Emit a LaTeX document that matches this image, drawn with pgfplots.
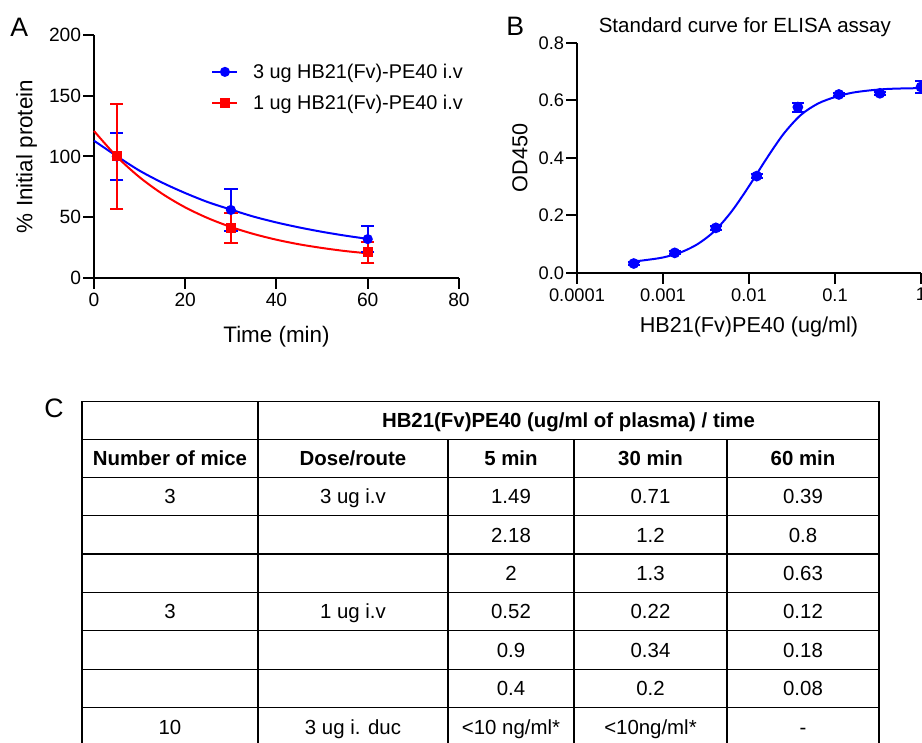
\documentclass[border=0pt]{standalone}
\usepackage{pgfplots}
\pgfplotsset{compat=1.18}
\usepackage{fontspec}
\setmainfont{Liberation Sans}
\newcommand\tabfont{\fontsize{15.3}{18}\selectfont}
\newcommand\Afont{\fontsize{14.4}{17}\selectfont}
\newcommand\Bfont{\fontsize{13.7}{16}\selectfont}
\newcommand\ta[1]{{\Afont #1}}
\newcommand\tb[1]{{\Bfont #1}}
\newcommand\Lfont{\fontsize{20}{24}\selectfont}
\newcommand\cell[3]{\node[anchor=base,inner sep=0pt,font=\tabfont] at (#1,{743-#2-7.3}) {#3};}
\begin{document}
\begin{tikzpicture}
\useasboundingbox (0,0) rectangle (691.5pt,557.25pt);
\pgfplotsset{
  myaxis/.style={
    scale only axis,
    axis lines=left,
    axis line style={line width=1.5pt,-},
    every tick/.style={line width=1.5pt, black},
    major tick length=8pt,
    tick align=outside,
    clip=false,
    every axis title shift=0pt,
    yticklabel style={inner xsep=1.5pt},
    /pgf/number format/assume math mode=true,
  }
}
% ---------------- Panel A ----------------
\begin{axis}[myaxis,
  at={(70.5pt,348.75pt)}, anchor=south west,
  width=273.75pt, height=182.25pt,
  xmin=0, xmax=80, ymin=0, ymax=200,
  xtick={0,20,40,60,80}, ytick={0,50,100,150,200},
  xticklabels={\ta{0},\ta{20},\ta{40},\ta{60},\ta{80}},
  yticklabels={\ta{0},\ta{50},\ta{100},\ta{150},\ta{200}},
  xlabel={Time (min)}, ylabel={\% Initial protein},
  label style={font=\fontsize{16.8}{20}\selectfont},
  xlabel style={at={(axis description cs:0.5,-0.243)}, anchor=center},
  ylabel style={at={(axis description cs:-0.185,0.5)}, anchor=center},
  legend style={draw=none, fill=none, at={(0.31,0.905)}, anchor=north west,
    font=\fontsize{14.9}{18}\selectfont, row sep=7pt},
  legend cell align=left,
]
\addplot[blue, line width=1.5pt, smooth, forget plot] coordinates {
 (0,113) (5,100.3) (10,88.3) (15,78.4) (20,69.9) (25,62.4) (30,56.3)
 (35,50.5) (40,45.7) (45,41.6) (50,38) (55,34.9) (60,32.2)};
\addplot[red, line width=1.5pt, smooth, forget plot] coordinates {
 (0,121) (5,99.9) (10,82.9) (15,69.2) (20,58.1) (25,49.2) (30,42)
 (35,36.2) (40,31.5) (45,27.7) (50,24.7) (55,22.2) (60,20.3)};
\addplot[blue, only marks, mark=*, mark size=3pt, line width=1.5pt,
  legend image code/.code={
     \draw[blue,line width=1.5pt] (0pt,0pt) -- (18.75pt,0pt);
     \draw[blue,mark=*,mark size=3pt] plot coordinates {(9.4pt,0pt)};},
  error bars/.cd, y dir=both, y explicit,
  error bar style={line width=1.5pt, blue},
  error mark options={rotate=90, mark size=5pt, line width=1.5pt, blue}]
  coordinates {(5,100) +- (0,19) (30,56) +- (0,17) (60,32) +- (0,10.5)};
\addlegendentry{\hspace*{9pt}3 ug HB21(Fv)-PE40 i.v}
\addplot[red, only marks, mark=square*, mark size=3pt, line width=1.5pt,
  legend image code/.code={
     \draw[red,line width=1.5pt] (0pt,0pt) -- (18.75pt,0pt);
     \draw[red,mark=square*,mark size=3pt] plot coordinates {(9.4pt,0pt)};},
  error bars/.cd, y dir=both, y explicit,
  error bar style={line width=1.5pt, red},
  error mark options={rotate=90, mark size=5pt, line width=1.5pt, red}]
  coordinates {(5,100) +- (0,43) (30,41) +- (0,12.5) (60,21) +- (0,9)};
\addlegendentry{\hspace*{9pt}1 ug HB21(Fv)-PE40 i.v}
\end{axis}
% ---------------- Panel B ----------------
\begin{axis}[myaxis,
  at={(432.75pt,352.5pt)}, anchor=south west,
  width=258pt, height=172.5pt,
  xmode=log, xmin=1e-4, xmax=1, ymin=0, ymax=0.8,
  xtick={1e-4,1e-3,1e-2,1e-1,1},
  xticklabels={\tb{0.0001},\tb{0.001},\tb{0.01},\tb{0.1},\tb{1}},
  ytick={0,0.2,0.4,0.6,0.8},
  yticklabels={\tb{0.0},\tb{0.2},\tb{0.4},\tb{0.6},\tb{0.8}},
  xminorticks=false,
  xlabel={HB21(Fv)PE40 (ug/ml)}, ylabel={OD450},
  label style={font=\fontsize{16.2}{19}\selectfont},
  xlabel style={at={(axis description cs:0.5,-0.235)}, anchor=center},
  ylabel style={at={(axis description cs:-0.166,0.5)}, anchor=center},
  title={Standard curve for ELISA assay},
  title style={at={(axis description cs:0.488,1.069)}, anchor=center,
    font=\fontsize{15.4}{18}\selectfont},
]
\addplot[blue, line width=1.5pt, smooth] coordinates {
 (4.57e-4,0.040) (6.31e-4,0.045) (1e-3,0.054) (1.585e-3,0.071) (2.512e-3,0.100)
 (3.981e-3,0.146) (6.31e-3,0.215) (0.01,0.302) (0.01585,0.396) (0.02512,0.483)
 (0.03981,0.549) (0.0631,0.589) (0.1,0.612) (0.1585,0.627) (0.2512,0.635)
 (0.3981,0.640) (0.631,0.642) (1,0.643)};
\addplot[blue, only marks, mark=*, mark size=3.25pt, line width=1.5pt,
  error bars/.cd, y dir=both, y explicit,
  error bar style={line width=1.5pt, blue},
  error mark options={rotate=90, mark size=4.5pt, line width=1.5pt, blue}]
  coordinates {(0.000457,0.033) +- (0,0.004) (0.00137,0.070) +- (0,0.005)
  (0.00412,0.157) +- (0,0.006) (0.0123,0.337) +- (0,0.006)
  (0.037,0.577) +- (0,0.016) (0.111,0.621) +- (0,0.005)
  (0.333,0.625) +- (0,0.005) (1,0.647) +- (0,0.022)};
\end{axis}
% ---------------- panel letters ----------------
\begin{scope}[x=0.75pt,y=0.75pt]
\node[anchor=base west,inner sep=0pt,font=\Lfont] at (10,{743-37}) {A};
\node[anchor=base west,inner sep=0pt,font=\Lfont] at (506,{743-36}) {B};
\node[anchor=base west,inner sep=0pt,font=\Lfont] at (44,{743-418}) {C};
% ---------------- table C ----------------
\begin{scope}[line width=1.1pt]
\foreach \r in {401.5,439.3,477.3,515.7,554,592.3,630.7,669.3,707.7}
  \draw (82,{743-\r}) -- (879,{743-\r});
\foreach \c in {82,258,879}
  \draw (\c,{743-401.5}) -- (\c,-5);
\foreach \c in {448,574,727}
  \draw (\c,{743-439.3}) -- (\c,-5);
\end{scope}
\cell{568.5}{420.2}{\bfseries HB21(Fv)PE40 (ug/ml of plasma) / time}
\cell{170}{458.3}{\bfseries Number of mice}
\cell{353}{458.3}{\bfseries Dose/route}
\cell{511}{458.3}{\bfseries 5 min}
\cell{650.5}{458.3}{\bfseries 30 min}
\cell{803}{458.3}{\bfseries 60 min}
\cell{170}{496.5}{3}\cell{353}{496.5}{3 ug i.v}\cell{511}{496.5}{1.49}\cell{650.5}{496.5}{0.71}\cell{803}{496.5}{0.39}
\cell{511}{534.9}{2.18}\cell{650.5}{534.9}{1.2}\cell{803}{534.9}{0.8}
\cell{511}{573.2}{2}\cell{650.5}{573.2}{1.3}\cell{803}{573.2}{0.63}
\cell{170}{611.5}{3}\cell{353}{611.5}{1 ug i.v}\cell{511}{611.5}{0.52}\cell{650.5}{611.5}{0.22}\cell{803}{611.5}{0.12}
\cell{511}{650}{0.9}\cell{650.5}{650}{0.34}\cell{803}{650}{0.18}
\cell{511}{688.5}{0.4}\cell{650.5}{688.5}{0.2}\cell{803}{688.5}{0.08}
\cell{170}{726.9}{10}\cell{353}{726.9}{3 ug i. duc}\cell{511}{726.9}{<10 ng/ml*}\cell{650.5}{726.9}{<10ng/ml*}\cell{803}{726.9}{-}
\end{scope}
\end{tikzpicture}
\end{document}
